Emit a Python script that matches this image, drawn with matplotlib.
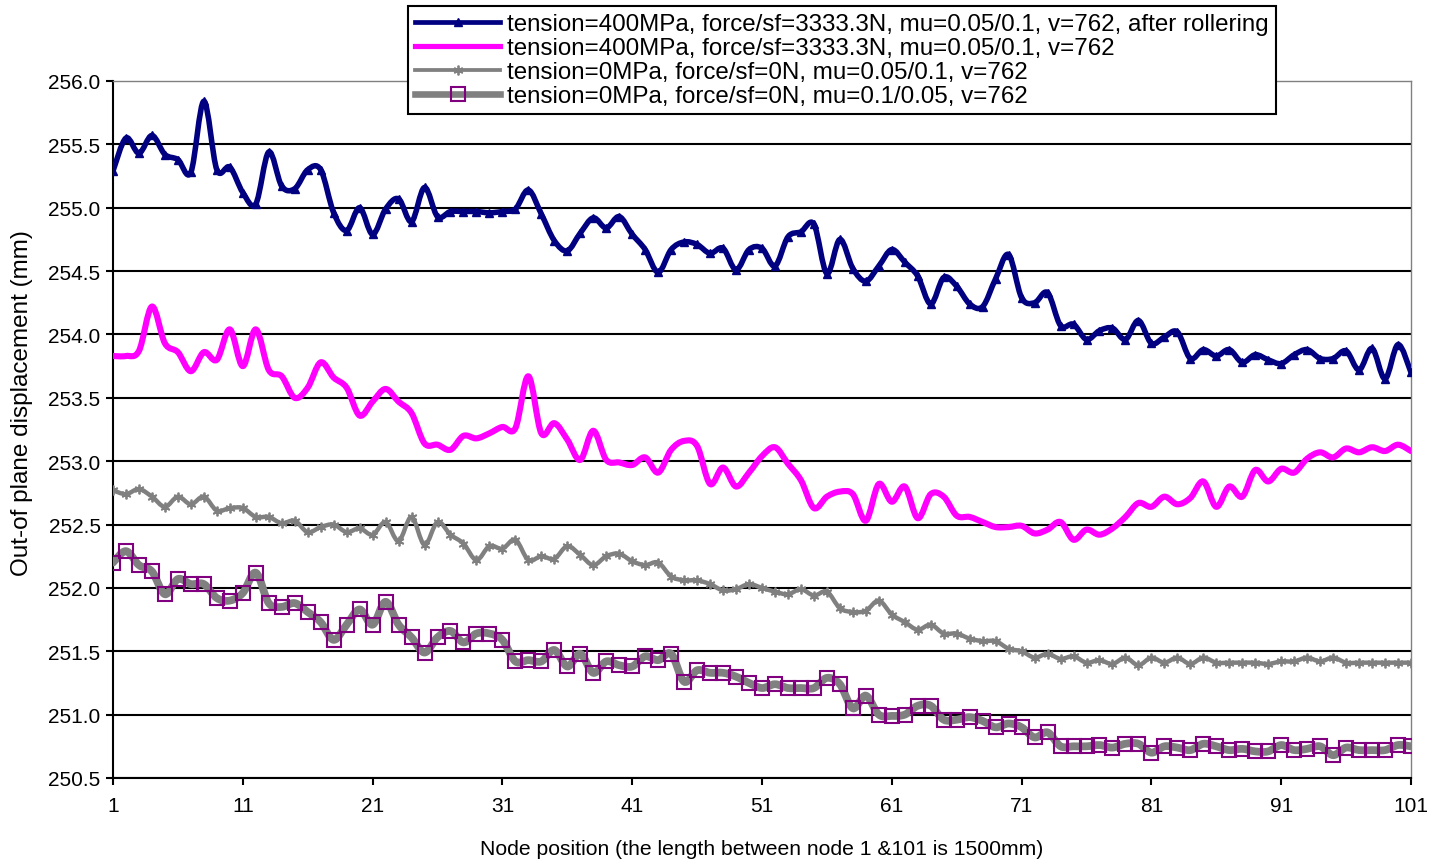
import matplotlib
matplotlib.use("Agg")
import matplotlib.pyplot as plt
from matplotlib.path import Path
from matplotlib.patches import PathPatch
from matplotlib.lines import Line2D
import numpy as np

plt.rcParams['font.family'] = ['Liberation Sans', 'DejaVu Sans']

nodes = list(range(1, 102))

blue_vals = [
    255.29, 255.55, 255.43, 255.57, 255.42, 255.38, 255.28, 255.84, 255.30, 255.32,
    255.12, 255.03, 255.44, 255.17, 255.15, 255.30, 255.30, 254.96, 254.82, 255.00,
    254.79, 254.99, 255.07, 254.89, 255.16, 254.93, 254.97, 254.97, 254.97, 254.96,
    254.97, 254.99, 255.14, 254.95, 254.74, 254.66, 254.80, 254.92, 254.84, 254.93,
    254.79, 254.67, 254.49, 254.67, 254.73, 254.71, 254.64, 254.68, 254.51, 254.67,
    254.68, 254.54, 254.77, 254.81, 254.87, 254.48, 254.75, 254.52, 254.42, 254.54,
    254.67, 254.57, 254.46, 254.24, 254.45, 254.38, 254.24, 254.22, 254.44, 254.63,
    254.29, 254.25, 254.33, 254.07, 254.08, 253.96, 254.03, 254.05, 253.96, 254.11,
    253.93, 253.98, 254.02, 253.81, 253.88, 253.83, 253.88, 253.78, 253.84, 253.80,
    253.77, 253.84, 253.88, 253.81, 253.81, 253.87, 253.72, 253.89, 253.65, 253.92,
    253.70]

magenta_vals = [
    253.83, 253.83, 253.87, 254.22, 253.93, 253.86, 253.71, 253.86, 253.80, 254.04,
    253.75, 254.04, 253.72, 253.67, 253.50, 253.58, 253.78, 253.66, 253.58, 253.36,
    253.47, 253.57, 253.47, 253.38, 253.14, 253.13, 253.09, 253.20, 253.18, 253.22,
    253.27, 253.26, 253.67, 253.22, 253.30, 253.17, 253.01, 253.24, 253.01, 252.99,
    252.97, 253.03, 252.91, 253.09, 253.16, 253.12, 252.82, 252.95, 252.80, 252.91,
    253.04, 253.11, 252.98, 252.85, 252.63, 252.72, 252.76, 252.74, 252.53, 252.82,
    252.68, 252.80, 252.55, 252.74, 252.72, 252.57, 252.56, 252.52, 252.48, 252.48,
    252.49, 252.43, 252.46, 252.52, 252.38, 252.46, 252.42, 252.47, 252.56, 252.67,
    252.64, 252.72, 252.66, 252.71, 252.84, 252.64, 252.80, 252.72, 252.93, 252.84,
    252.94, 252.91, 253.02, 253.07, 253.03, 253.10, 253.07, 253.11, 253.08, 253.13,
    253.08]

star_vals = [
    252.77, 252.74, 252.78, 252.72, 252.64, 252.72, 252.66, 252.72, 252.61, 252.63,
    252.63, 252.56, 252.56, 252.51, 252.53, 252.44, 252.48, 252.50, 252.44, 252.47,
    252.42, 252.52, 252.37, 252.56, 252.34, 252.52, 252.42, 252.35, 252.22, 252.33,
    252.31, 252.38, 252.22, 252.25, 252.23, 252.33, 252.26, 252.18, 252.25, 252.27,
    252.21, 252.18, 252.20, 252.09, 252.06, 252.06, 252.03, 251.98, 251.99, 252.03,
    252.00, 251.97, 251.95, 251.99, 251.94, 251.97, 251.84, 251.81, 251.82, 251.90,
    251.79, 251.73, 251.67, 251.71, 251.64, 251.64, 251.60, 251.58, 251.58, 251.52,
    251.50, 251.45, 251.48, 251.44, 251.46, 251.41, 251.43, 251.40, 251.45, 251.39,
    251.45, 251.41, 251.45, 251.40, 251.45, 251.41, 251.41, 251.41, 251.41, 251.40,
    251.42, 251.42, 251.45, 251.42, 251.45, 251.41, 251.41, 251.41, 251.41, 251.41,
    251.41]

square_vals = [
    252.20, 252.29, 252.18, 252.13, 251.95, 252.07, 252.03, 252.03, 251.92, 251.90,
    251.96, 252.12, 251.88, 251.85, 251.88, 251.81, 251.73, 251.59, 251.71, 251.83,
    251.71, 251.89, 251.71, 251.61, 251.49, 251.61, 251.66, 251.57, 251.64, 251.64,
    251.59, 251.42, 251.43, 251.42, 251.51, 251.38, 251.48, 251.33, 251.42, 251.39,
    251.38, 251.46, 251.43, 251.48, 251.26, 251.35, 251.33, 251.33, 251.30, 251.25,
    251.21, 251.24, 251.21, 251.21, 251.21, 251.29, 251.24, 251.05, 251.15, 251.00,
    250.99, 251.00, 251.07, 251.07, 250.96, 250.96, 250.98, 250.95, 250.90, 250.93,
    250.90, 250.82, 250.86, 250.75, 250.75, 250.75, 250.76, 250.74, 250.77, 250.77,
    250.70, 250.75, 250.74, 250.72, 250.77, 250.75, 250.72, 250.73, 250.71, 250.71,
    250.76, 250.72, 250.73, 250.75, 250.68, 250.74, 250.72, 250.72, 250.72, 250.76,
    250.75]

labels = [
    "tension=400MPa, force/sf=3333.3N, mu=0.05/0.1, v=762, after rollering",
    "tension=400MPa, force/sf=3333.3N, mu=0.05/0.1, v=762",
    "tension=0MPa, force/sf=0N, mu=0.05/0.1, v=762",
    "tension=0MPa, force/sf=0N, mu=0.1/0.05, v=762",
]

x_ticks = [1, 11, 21, 31, 41, 51, 61, 71, 81, 91, 101]
y_ticks = [250.5, 251.0, 251.5, 252.0, 252.5, 253.0, 253.5, 254.0, 254.5, 255.0, 255.5, 256.0]


def smooth_path(xs, ys):
    """Excel-style smoothed line: cubic Bezier segments through the data points."""
    pts = np.column_stack([np.asarray(xs, float), np.asarray(ys, float)])
    n = len(pts)
    verts = [pts[0]]
    codes = [Path.MOVETO]
    for i in range(n - 1):
        p0 = pts[i - 1] if i > 0 else pts[i]
        p1 = pts[i]
        p2 = pts[i + 1]
        p3 = pts[i + 2] if i + 2 < n else pts[i + 1]
        verts += [p1 + (p2 - p0) / 6.0, p2 - (p3 - p1) / 6.0, p2]
        codes += [Path.CURVE4] * 3
    return Path(verts, codes)


W, H = 1433, 862
fig = plt.figure(figsize=(W / 100, H / 100), dpi=100)
ax = fig.add_axes([113 / W, 83 / H, (1411 - 113) / W, (779 - 82) / H])

styles = [
    dict(vals=blue_vals, color='#000080', lw=4.0, marker='^', ms=6, mfc='#000080', mec='#000080', mew=1.0),
    dict(vals=magenta_vals, color='#FF00FF', lw=4.4, marker=None, ms=0, mfc='none', mec='none', mew=0),
    dict(vals=star_vals, color='#808080', lw=3.2, marker=(6, 2, 0), ms=7, mfc='#808080', mec='#808080', mew=1.3),
    dict(vals=square_vals, color='#808080', lw=5.6, marker='s', ms=9.5, mfc='none', mec='#800080', mew=1.5),
]

handles = []
for st in styles:
    patch = PathPatch(smooth_path(nodes, st['vals']), facecolor='none', edgecolor=st['color'],
                      lw=st['lw'], capstyle='round', joinstyle='round', zorder=3)
    ax.add_patch(patch)
    if st['marker'] is not None:
        ax.plot(nodes, st['vals'], ls='none', marker=st['marker'], ms=st['ms'],
                mfc=st['mfc'], mec=st['mec'], mew=st['mew'], zorder=4)
    handles.append(Line2D([], [], color=st['color'], lw=st['lw'] * 0.85,
                          marker=st['marker'] if st['marker'] is not None else None,
                          ms=st['ms'], mfc=st['mfc'], mec=st['mec'], mew=st['mew']))

ax.set_xlim(1, 101)
ax.set_ylim(250.5, 256.0)
ax.set_xticks(x_ticks)
ax.set_xticklabels([str(t) for t in x_ticks])
ax.set_yticks(y_ticks)
ax.set_yticklabels([f"{t:.1f}" for t in y_ticks])
ax.tick_params(axis='both', direction='out', length=5, width=1.5, labelsize=15, colors='black')
ax.tick_params(axis='y', pad=4)
ax.tick_params(axis='x', pad=8)

ax.yaxis.grid(True, color='black', lw=1.5)
ax.set_axisbelow(True)
gl = ax.yaxis.get_gridlines()
gl[-1].set_visible(False)

for s in ['left', 'bottom']:
    ax.spines[s].set_color('black')
    ax.spines[s].set_linewidth(1.5)
for s in ['top', 'right']:
    ax.spines[s].set_color('#808080')
    ax.spines[s].set_linewidth(1.0)

ax.set_xlabel("Node position (the length between node 1 &101 is 1500mm)", fontsize=15.2, labelpad=17)
ax.set_ylabel("Out-of plane displacement (mm)", fontsize=17.5)
ax.yaxis.set_label_coords(-0.0616, 0.539)

leg = fig.legend(handles=handles, labels=labels, loc='upper left',
                 bbox_to_anchor=(408 / W, 1 - 7 / H), frameon=True, fancybox=False,
                 edgecolor='black', framealpha=1, borderaxespad=0, fontsize=17.4,
                 handlelength=3.5, handletextpad=0.3, labelspacing=0.08,
                 borderpad=0.3, numpoints=1)
leg.get_frame().set_linewidth(1.5)

fig.savefig("out.png", dpi=100)
